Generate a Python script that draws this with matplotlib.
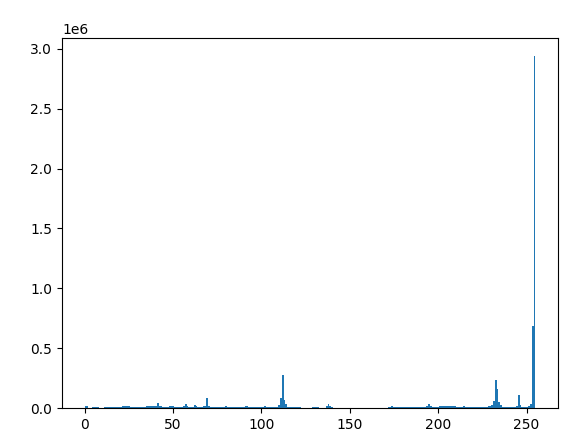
import matplotlib
matplotlib.use("Agg")
import matplotlib.pyplot as plt
import numpy as np

# counts per bin (256 bins over pixel values 0..255)
counts = [
    15000, 16000, 0, 0, 6000, 6000, 6000, 6000, 0, 0, 0, 5000, 5000, 5000, 5000, 5000,          # 0-15
    5000, 5000, 5000, 5000, 5000, 18000, 15000, 15000, 15000, 15000, 5000, 5000, 5000, 5000, 5000, 5000,  # 16-31
    5000, 5000, 5000, 15000, 15000, 15000, 15000, 15000, 15000, 45000, 15000, 15000, 5000, 5000, 5000, 5000,  # 32-47
    15000, 15000, 15000, 5000, 5000, 5000, 5000, 5000, 15000, 33000, 15000, 5000, 5000, 5000, 25000, 15000,  # 48-63
    5000, 5000, 5000, 15000, 15000, 84000, 15000, 5000, 5000, 5000, 5000, 5000, 5000, 5000, 5000, 5000,  # 64-79
    15000, 5000, 5000, 5000, 5000, 5000, 5000, 5000, 5000, 5000, 5000, 15000, 15000, 5000, 5000, 5000,  # 80-95
    5000, 5000, 5000, 5000, 5000, 5000, 15000, 5000, 5000, 5000, 5000, 5000, 5000, 5000, 25000, 84000,  # 96-111
    276000, 67000, 33000, 5000, 5000, 5000, 5000, 5000, 5000, 5000, 5000, 0, 0, 0, 0, 0,  # 112-127
    0, 5000, 5000, 5000, 5000, 0, 0, 0, 0, 15000, 33000, 15000, 5000, 0, 0, 0,  # 128-143
    0, 0, 0, 0, 0, 0, 0, 0, 0, 0, 0, 0, 0, 0, 0, 0,  # 144-159
    0, 0, 0, 0, 0, 0, 0, 0, 0, 0, 0, 0, 5000, 5000, 15000, 5000,  # 160-175
    5000, 5000, 5000, 5000, 5000, 5000, 5000, 5000, 5000, 5000, 5000, 5000, 5000, 5000, 5000, 5000,  # 176-191
    5000, 5000, 15000, 33000, 15000, 5000, 5000, 5000, 5000, 15000, 15000, 15000, 15000, 15000, 15000, 15000,  # 192-207
    15000, 15000, 15000, 5000, 5000, 5000, 5000, 15000, 5000, 5000, 5000, 5000, 5000, 5000, 5000, 5000,  # 208-223
    5000, 5000, 5000, 5000, 5000, 15000, 15000, 25000, 58000, 234000, 159000, 50000, 25000, 5000, 5000, 5000,  # 224-239
    5000, 5000, 5000, 5000, 5000, 15000, 105000, 25000, 5000, 5000, 5000, 5000, 15000, 33000, 686000, 2940000,  # 240-255
]

edges = np.linspace(0, 255, 257)
centers = (edges[:-1] + edges[1:]) / 2

fig = plt.figure(figsize=(5.78, 4.42), dpi=100)
ax = fig.add_axes([62 / 578, 34 / 442, 496 / 578, 369.6 / 442])
ax.hist(centers, bins=edges, weights=counts)

fig.savefig("out.png", dpi=100)
